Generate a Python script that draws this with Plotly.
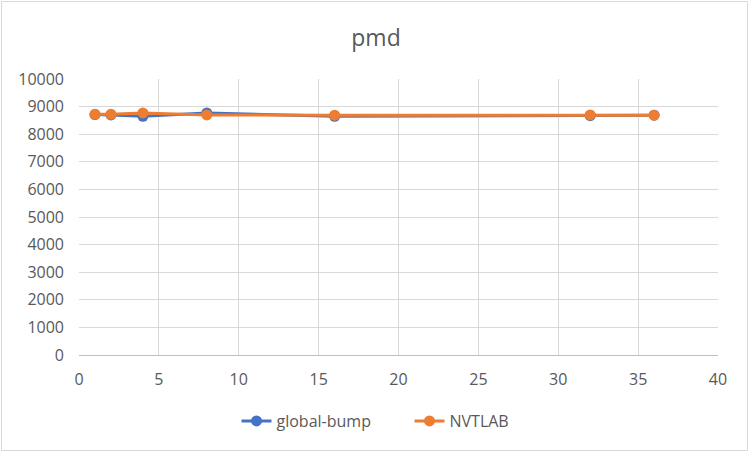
import plotly.graph_objects as go

x_vals = [1, 2, 4, 8, 16, 32, 36]
global_bump = [8710, 8700, 8650, 8770, 8650, 8670, 8690]
nvtlab = [8720, 8720, 8770, 8700, 8690, 8700, 8690]

W, H = 752, 452
L, R, T, B = 79, 34, 79, 97
pw, ph = W - L - R, H - T - B

fig = go.Figure()
fig.add_trace(go.Scatter(x=x_vals, y=global_bump, name="global-bump", mode="lines+markers",
                         line=dict(color="#4472C4", width=3), marker=dict(size=11, color="#4472C4")))
fig.add_trace(go.Scatter(x=x_vals, y=nvtlab, name="NVTLAB", mode="lines+markers",
                         line=dict(color="#ED7D31", width=3), marker=dict(size=11, color="#ED7D31")))

font = "Open Sans, Liberation Sans, sans-serif"
fig.update_layout(
    width=W, height=H,
    margin=dict(l=L, r=R, t=T, b=B),
    paper_bgcolor="white", plot_bgcolor="white",
    title=dict(text="pmd", x=0.5, xanchor="center", y=1 - 38 / H, yanchor="middle",
               font=dict(family=font, size=23, color="#595959")),
    xaxis=dict(range=[0, 40], dtick=5, showgrid=True, gridcolor="#d9d9d9", gridwidth=1,
               zeroline=False, showline=True, linecolor="#bfbfbf", ticks="",
               ticklabelstandoff=10,
               tickfont=dict(family=font, size=16, color="#595959")),
    yaxis=dict(range=[0, 10000], dtick=1000, tickformat="d", showgrid=True, gridcolor="#d9d9d9",
               gridwidth=1, zeroline=False, showline=False, ticks="",
               ticklabelstandoff=14,
               tickfont=dict(family=font, size=16, color="#595959")),
    legend=dict(orientation="h", x=0.5 + 11 / pw, xanchor="center", y=-(421 - (H - B)) / ph,
                yanchor="middle", entrywidth=128, entrywidthmode="pixels",
                font=dict(family=font, size=16, color="#595959")),
    showlegend=True,
)
fig.add_shape(type="rect", xref="paper", yref="paper",
              x0=-(L - 1.5) / pw, x1=1 + (R - 4.5) / pw,
              y0=-(B - 1.5) / ph, y1=1 + (T - 1.5) / ph,
              line=dict(color="#d9d9d9", width=1), fillcolor="rgba(0,0,0,0)", layer="below")

fig.write_html("out.html")
